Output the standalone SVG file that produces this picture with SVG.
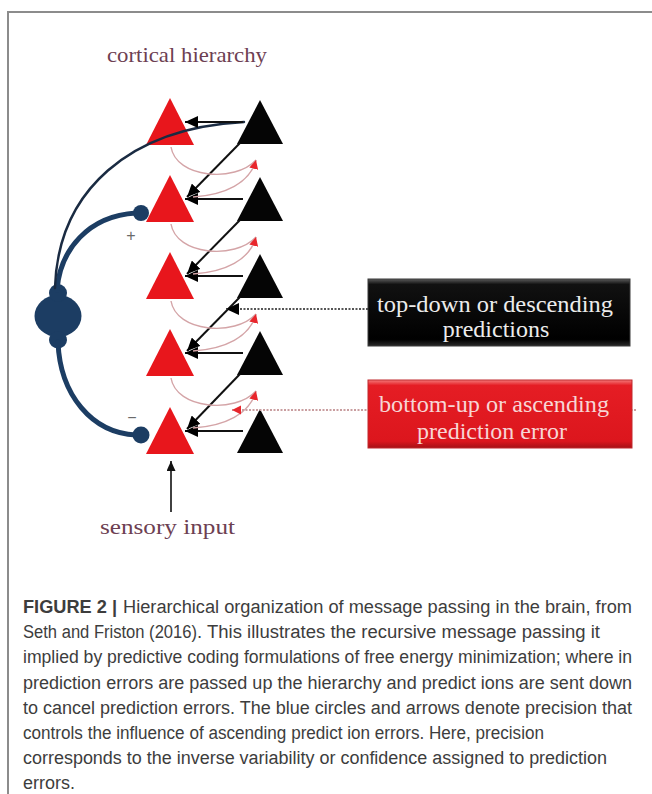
<svg xmlns="http://www.w3.org/2000/svg" width="652" height="794" viewBox="0 0 652 794">
<defs>
<style>
.pe{fill:#e8161c}
.pr{fill:#050505}
.blk{stroke:#111;stroke-width:2;fill:none}
.pink{stroke:#d4a4a7;stroke-width:1.4;fill:none}
.navy{fill:#1c3d63}
.nline{stroke:#1c3d63;fill:none;stroke-linecap:round}
.lbl{font-family:"Liberation Serif","Times New Roman",serif;fill:#6d4052}
.btxt{font-family:"Liberation Serif","Times New Roman",serif;font-size:24px;text-anchor:middle}
.cap{font-family:"Liberation Sans",Arial,sans-serif;font-size:18px;fill:#3d3d3d}
.sign{font-family:"Liberation Sans",Arial,sans-serif;font-size:16px;fill:#6a6a6a;text-anchor:middle}
</style>
<marker id="ab" markerUnits="userSpaceOnUse" markerWidth="14" markerHeight="12" refX="13" refY="6" orient="auto"><path d="M0,0 L13,6 L0,12 z" fill="#000"/></marker>
<marker id="ar" markerUnits="userSpaceOnUse" markerWidth="10" markerHeight="10" refX="9" refY="4.5" orient="auto"><path d="M0,0 L9,4.5 L0,9 z" fill="#e8262c"/></marker>
<marker id="as" markerUnits="userSpaceOnUse" markerWidth="11" markerHeight="10" refX="10" refY="4.5" orient="auto"><path d="M0,0 L10,4.5 L0,9 z" fill="#111"/></marker>
<linearGradient id="gb" x1="0" y1="0" x2="0" y2="1">
<stop offset="0" stop-color="#5a5a5a"/><stop offset="0.08" stop-color="#111"/><stop offset="0.9" stop-color="#000"/><stop offset="1" stop-color="#2a2a2a"/>
</linearGradient>
<linearGradient id="gr" x1="0" y1="0" x2="0" y2="1">
<stop offset="0" stop-color="#f47a7a"/><stop offset="0.08" stop-color="#e51d24"/><stop offset="0.9" stop-color="#dc161d"/><stop offset="1" stop-color="#a51116"/>
</linearGradient>
</defs>
<rect width="652" height="794" fill="#fff"/>
<path d="M8,794 L8,12 L652,12" stroke="#8c8c8c" stroke-width="2" fill="none"/>

<g id="label-cortical"><text class="lbl" x="107" y="62" font-size="22" textLength="160" lengthAdjust="spacingAndGlyphs">cortical hierarchy</text></g>

<g id="pe1"><polygon class="pe" points="170,98 146,145 194,145"/></g>
<g id="pe2"><polygon class="pe" points="170,175 146,222 194,222"/></g>
<g id="pe3"><polygon class="pe" points="170,252 146,299 194,299"/></g>
<g id="pe4"><polygon class="pe" points="170,329 146,376 194,376"/></g>
<g id="pe5"><polygon class="pe" points="170,407 146,454 194,454"/></g>
<g id="pr1"><polygon class="pr" points="260,100 237,144 283,144"/></g>
<g id="pr2"><polygon class="pr" points="260,177 237,221 283,221"/></g>
<g id="pr3"><polygon class="pr" points="260,254 237,298 283,298"/></g>
<g id="pr4"><polygon class="pr" points="260,331 237,375 283,375"/></g>
<g id="pr5"><polygon class="pr" points="260,409 237,453 283,453"/></g>

<g id="precision">
<ellipse class="navy" cx="58" cy="316" rx="23.5" ry="21"/>
<ellipse class="navy" cx="58" cy="293" rx="9" ry="9"/>
<ellipse class="navy" cx="58" cy="340" rx="9" ry="8.5"/>
<path class="nline" d="M57,290 C60,250 88,216 136,213" stroke-width="5"/>
<path class="nline" d="M58,342 C60,395 92,433 136,435" stroke-width="5"/>
<circle class="navy" cx="141" cy="213" r="8"/>
<circle class="navy" cx="141" cy="435" r="8.5"/>
<text class="sign" x="131" y="241">+</text>
<text class="sign" x="132" y="423">−</text>
</g>

<g id="connectors">
<path d="M55,288 C58,190 130,128 244,122" stroke="#1a2b42" stroke-width="2.5" fill="none" stroke-linecap="round"/>
<path class="blk" d="M243,122 L185,122" marker-end="url(#ab)"/>
<path class="blk" d="M243,199 L185,199" marker-end="url(#ab)"/>
<path class="blk" d="M243,276 L185,276" marker-end="url(#ab)"/>
<path class="blk" d="M243,353 L185,353" marker-end="url(#ab)"/>
<path class="blk" d="M243,431 L185,431" marker-end="url(#ab)"/>
<path class="blk" d="M240,143 L187,197" marker-end="url(#ab)"/>
<path class="blk" d="M240,220 L187,274" marker-end="url(#ab)"/>
<path class="blk" d="M240,297 L187,351" marker-end="url(#ab)"/>
<path class="blk" d="M240,374 L187,429" marker-end="url(#ab)"/>
<path class="pink" d="M171,147 C176,178 235,183 256,160"/>
<path class="pink" d="M193,197 C225,195 250,183 256,160" marker-end="url(#ar)"/>
<path class="pink" d="M171,224 C176,255 235,260 256,237"/>
<path class="pink" d="M193,274 C225,272 250,260 256,237" marker-end="url(#ar)"/>
<path class="pink" d="M171,301 C176,332 235,337 256,314"/>
<path class="pink" d="M193,351 C225,349 250,337 256,314" marker-end="url(#ar)"/>
<path class="pink" d="M171,378 C176,409 235,414 256,391"/>
<path class="pink" d="M193,428 C225,426 250,414 256,391" marker-end="url(#ar)"/>
<path d="M368,309 L226,309" stroke="#555" stroke-width="2" stroke-dasharray="2 1.5" fill="none" marker-end="url(#ab)"/>
<path d="M636,410 L232,410" stroke="#c99ea0" stroke-width="2" stroke-dasharray="2 1.5" fill="none" marker-end="url(#ar)"/>
<path d="M171,512 L171,461" stroke="#111" stroke-width="1.6" fill="none" marker-end="url(#as)"/>
</g>

<g id="box-topdown">
<rect x="368" y="279" width="262" height="67" fill="url(#gb)" stroke="#3a3a3a" stroke-width="1"/>
<text class="btxt" x="495" y="312" fill="#ececec" textLength="236" lengthAdjust="spacingAndGlyphs">top-down or descending</text>
<text class="btxt" x="496" y="337" fill="#ececec">predictions</text>
</g>
<g id="box-bottomup">
<rect x="368" y="380" width="264" height="68" fill="url(#gr)" stroke="#c0282c" stroke-width="1"/>
<text class="btxt" x="494" y="412" fill="#f7d5d5" textLength="230" lengthAdjust="spacingAndGlyphs">bottom-up or ascending</text>
<text class="btxt" x="492" y="439" fill="#f7d5d5">prediction error</text>
</g>

<g id="label-sensory"><text class="lbl" x="100" y="534" font-size="20" textLength="135" lengthAdjust="spacingAndGlyphs">sensory input</text></g>

<g id="caption">
<text class="cap" x="23" y="613" font-weight="bold" fill="#222" textLength="94" lengthAdjust="spacingAndGlyphs">FIGURE 2 |</text>
<text class="cap" x="123" y="613" textLength="509" lengthAdjust="spacingAndGlyphs">Hierarchical organization of message passing in the brain, from</text>
<text class="cap" x="23" y="638" fill="#8c8c8c" textLength="174" lengthAdjust="spacingAndGlyphs">Seth and Friston (2016)</text>
<text class="cap" x="197" y="638" textLength="403" lengthAdjust="spacingAndGlyphs">. This illustrates the recursive message passing it</text>
<text class="cap" x="23" y="663" textLength="609" lengthAdjust="spacingAndGlyphs">implied by predictive coding formulations of free energy minimization; where in</text>
<text class="cap" x="23" y="688.5" textLength="609" lengthAdjust="spacingAndGlyphs">prediction errors are passed up the hierarchy and predict ions are sent down</text>
<text class="cap" x="23" y="713.5" textLength="609" lengthAdjust="spacingAndGlyphs">to cancel prediction errors. The blue circles and arrows denote precision that</text>
<text class="cap" x="23" y="738.5" textLength="521" lengthAdjust="spacingAndGlyphs">controls the influence of ascending predict ion errors. Here, precision</text>
<text class="cap" x="23" y="763.5" textLength="584" lengthAdjust="spacingAndGlyphs">corresponds to the inverse variability or confidence assigned to prediction</text>
<text class="cap" x="23" y="788.5">errors.</text>
</g>
</svg>
